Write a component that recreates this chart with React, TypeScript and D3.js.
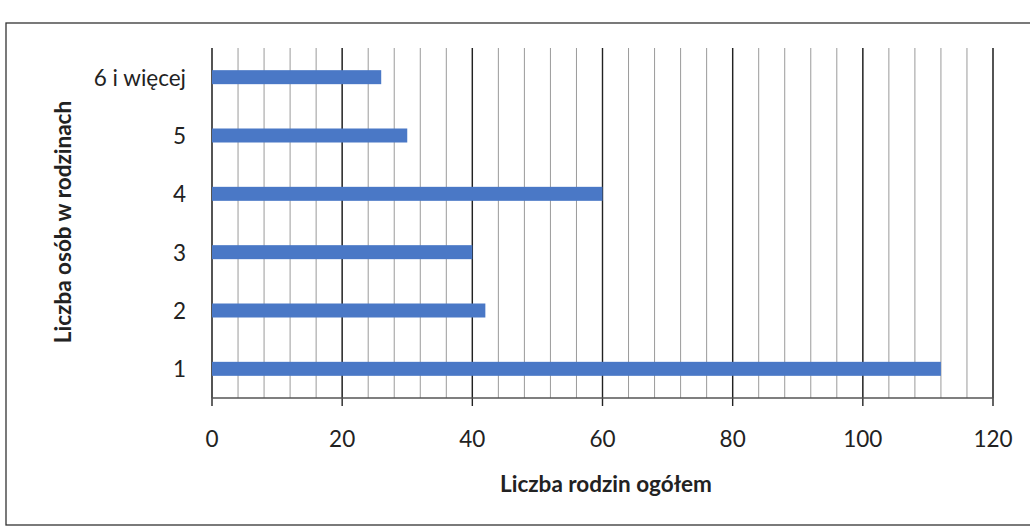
import React from "react";
import * as d3 from "d3";

const categories = ["1", "2", "3", "4", "5", "6 i więcej"];
const values = [112, 42, 40, 60, 30, 26];
const majorTicks = [0, 20, 40, 60, 80, 100, 120];
const minorTicks = d3.range(0, 121, 4);

const W = 1030;
const H = 531;
const margin = { left: 212, right: 37, top: 48, bottom: 133 };
const FONT = "Lato, 'Open Sans', sans-serif";
const FS = 22.5;

export default function App() {
  const x = d3.scaleLinear().domain([0, 120]).range([margin.left, W - margin.right]);
  const y = d3
    .scaleBand<string>()
    .domain([...categories].reverse())
    .range([margin.top, H - margin.bottom])
    .paddingInner(0.76)
    .paddingOuter(0.38);
  const yBottom = H - margin.bottom;
  return (
    <svg width={W} height={H} style={{ position: "absolute", left: 0, top: 0, background: "#fff" }}>
      <rect x={6} y={23} width={1030} height={502} fill="none" stroke="#333" strokeWidth={1.3} />
      {minorTicks.map((t) => (
        <line key={"m" + t} x1={x(t)} x2={x(t)} y1={margin.top} y2={yBottom} stroke="#9a9a9a" strokeWidth={1} />
      ))}
      {majorTicks.map((t) => (
        <line key={"M" + t} x1={x(t)} x2={x(t)} y1={margin.top} y2={yBottom + 8} stroke="#222" strokeWidth={1.4} />
      ))}
      <line x1={x(0)} x2={x(120)} y1={yBottom} y2={yBottom} stroke="#555" strokeWidth={1.3} />
      {categories.map((c, i) => (
        <rect key={c} x={x(0)} y={y(c)!} width={x(values[i]) - x(0)} height={y.bandwidth()} fill="#4A78C6" />
      ))}
      {categories.map((c) => (
        <text key={"l" + c} x={186} y={y(c)! + y.bandwidth() / 2} textAnchor="end" dominantBaseline="central" fontFamily={FONT} fontSize={FS} fill="#222">
          {c}
        </text>
      ))}
      {majorTicks.map((t) => (
        <text key={"t" + t} x={x(t)} y={438} textAnchor="middle" dominantBaseline="central" fontFamily={FONT} fontSize={FS} fill="#222">
          {t}
        </text>
      ))}
      <text x={606} y={483} textAnchor="middle" dominantBaseline="central" fontFamily={FONT} fontSize={FS} fontWeight="bold" fill="#222">
        Liczba rodzin ogółem
      </text>
      <text
        transform={`translate(62, ${222}) rotate(-90)`}
        textAnchor="middle"
        dominantBaseline="central"
        fontFamily={FONT}
        fontSize={FS}
        fontWeight="bold"
        fill="#222"
      >
        Liczba osób w rodzinach
      </text>
    </svg>
  );
}
